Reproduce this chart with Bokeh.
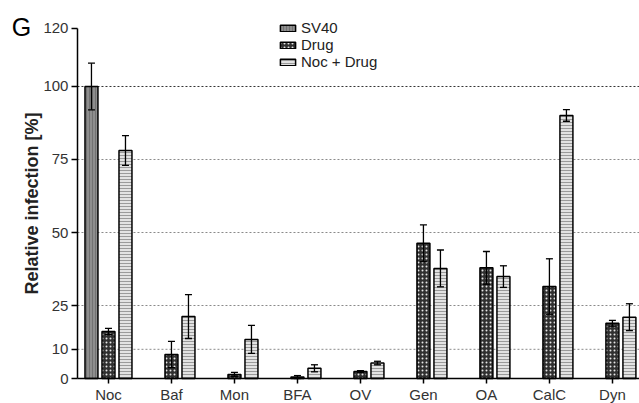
from bokeh.plotting import figure
from bokeh.models import (ColumnDataSource, FixedTicker, Whisker, TeeHead,
                          Label, Legend, LegendItem, Range1d)
from bokeh.embed import file_html
from bokeh.resources import INLINE

# ---- data ----
categories = ["Noc", "Baf", "Mon", "BFA", "OV", "Gen", "OA", "CalC", "Dyn"]
sv40_cats = ["Noc"]
sv40 = [100.0]
sv40_err = [8.0]
drug = [16.1, 8.2, 1.4, 0.5, 2.4, 46.3, 37.9, 31.5, 18.9]
drug_err = [1.1, 4.5, 0.7, 0.5, 0.3, 6.3, 5.6, 9.5, 1.0]
noc_drug = [78.1, 21.2, 13.4, 3.5, 5.3, 37.7, 34.9, 90.1, 21.0]
noc_drug_err = [5.1, 7.5, 4.8, 1.2, 0.6, 6.3, 3.7, 2.0, 4.6]
y_ticks = [0, 10, 25, 50, 75, 100, 120]
grid_levels = [10, 25, 50, 75]
strong_grid = [100]
series_names = ["SV40", "Drug", "Noc + Drug"]

OFF = 0.27
W = 0.206
X0, X1 = -1.714, 8.43      # visible x range (category units)
AX = -0.492                # where the y axis sits
Y0, Y1 = -8.56, 129.45
FONT = "Liberation Sans"


def make_src(cats, vals, errs, offset):
    xs = [categories.index(c) + offset for c in cats]
    return ColumnDataSource(dict(
        x=xs, top=vals,
        upper=[v + e for v, e in zip(vals, errs)],
        lower=[max(v - e, 0) for v, e in zip(vals, errs)],
    ))


src_sv = make_src(sv40_cats, sv40, sv40_err, -OFF)
src_dr = make_src(categories, drug, drug_err, 0.0)
src_nd = make_src(categories, noc_drug, noc_drug_err, OFF)

p = figure(width=639, height=403, output_backend="svg", toolbar_location=None,
           x_range=Range1d(X0, X1), y_range=Range1d(Y0, Y1),
           min_border_left=0, min_border_right=0, min_border_top=0,
           min_border_bottom=0)
p.outline_line_color = None
p.background_fill_color = "white"
p.border_fill_color = "white"

# grid lines (dotted), starting at the y axis
p.xgrid.visible = False
p.ygrid.visible = False
p.segment(x0=AX, x1=X1, y0=grid_levels, y1=grid_levels, line_color="#8a8a8a",
          line_dash="2 2", line_width=1, level="underlay")
p.segment(x0=AX, x1=X1, y0=strong_grid, y1=strong_grid, line_color="#333333",
          line_dash="2 2", line_width=1, level="underlay")

bar_kw = dict(width=W, bottom=0, line_color="black", line_width=1.5)
r_sv = p.vbar(x="x", top="top", source=src_sv, fill_color="#8e8e8e",
              hatch_pattern="vertical_line", hatch_color="#727272",
              hatch_scale=3, hatch_weight=1, **bar_kw)
r_dr = p.vbar(x="x", top="top", source=src_dr, fill_color="#303030",
              hatch_pattern="dot", hatch_color="#e6e6e6",
              hatch_scale=4, hatch_weight=1, **bar_kw)
r_nd = p.vbar(x="x", top="top", source=src_nd, fill_color="#e2e2e2",
              hatch_pattern="horizontal_line", hatch_color="#9a9a9a",
              hatch_scale=3, hatch_weight=1, **bar_kw)

for s in (src_sv, src_dr, src_nd):
    w = Whisker(base="x", upper="upper", lower="lower", source=s,
                line_color="black", line_width=1.3, level="overlay",
                upper_head=TeeHead(size=7, line_color="black", line_width=1.3),
                lower_head=TeeHead(size=7, line_color="black", line_width=1.3))
    p.add_layout(w)

# axes
p.xaxis.ticker = FixedTicker(ticks=list(range(len(categories))))
p.xaxis.major_label_overrides = {i: c for i, c in enumerate(categories)}
p.xaxis.bounds = (AX, X1)
p.xaxis.fixed_location = 0
p.yaxis.ticker = FixedTicker(ticks=y_ticks)
p.yaxis.bounds = (0, 120)
p.yaxis.fixed_location = AX
for ax in (p.xaxis, p.yaxis):
    ax.axis_line_color = "black"
    ax.axis_line_width = 1.5
    ax.major_tick_line_color = "black"
    ax.major_tick_line_width = 1.5
    ax.major_tick_in = 0
    ax.minor_tick_line_color = None
    ax.major_label_text_font = FONT
    ax.major_label_text_font_size = "15px"
    ax.major_label_text_color = "#333333"
p.xaxis.major_tick_out = 5
p.xaxis.major_label_standoff = 2
p.yaxis.major_tick_out = 6
p.yaxis.major_label_standoff = 3
p.yaxis.axis_label = "Relative infection [%]"
p.yaxis.axis_label_text_font = FONT
p.yaxis.axis_label_text_font_size = "18px"
p.yaxis.axis_label_text_font_style = "bold"
p.yaxis.axis_label_text_color = "#222222"
p.yaxis.axis_label_standoff = -2

# legend
legend = Legend(items=[LegendItem(label=series_names[0], renderers=[r_sv]),
                       LegendItem(label=series_names[1], renderers=[r_dr]),
                       LegendItem(label=series_names[2], renderers=[r_nd])],
                location=(278, 333), orientation="vertical",
                glyph_width=19, glyph_height=8, label_standoff=4,
                label_text_font=FONT, label_text_font_size="15px",
                label_text_color="#222222", label_height=16,
                spacing=0, padding=0, margin=0,
                border_line_color=None, background_fill_alpha=0)
p.add_layout(legend)

# panel letter
p.add_layout(Label(x=-1.381, y=120.5, text="G", text_font=FONT,
                   text_font_size="25px", text_color="black",
                   text_align="center", text_baseline="middle"))

open("out.html", "w").write(file_html(p, INLINE))
